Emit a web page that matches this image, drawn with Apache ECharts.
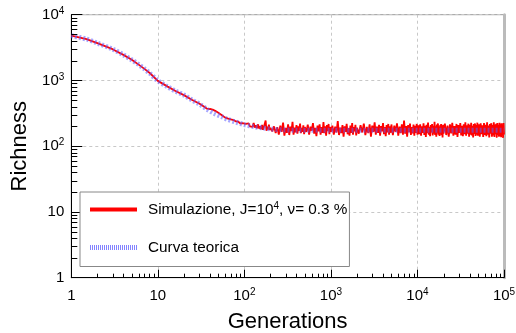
<!DOCTYPE html>
<html>
<head>
<meta charset="utf-8">
<script src="https://cdn.jsdelivr.net/npm/echarts@6/dist/echarts.min.js"></script>
<style>
html,body{margin:0;padding:0;background:#fff;}
#c{width:516px;height:333px;}
</style>
</head>
<body>
<div id="c"></div>
<script>
// ---- data ----
const xTickLabels = ['1', '10', '10{sup|2}', '10{sup|3}', '10{sup|4}', '10{sup|5}'];
const yTickLabels = ['1', '10', '10{sup|2}', '10{sup|3}', '10{sup|4}'];

const theoX = [1, 1.5, 2, 3, 4, 5, 6, 7, 8, 10, 13, 16, 20, 25, 30, 37, 45, 55, 63, 80, 100, 130, 160, 200, 280, 400, 1000, 10000, 100000];
const theoY = [4800, 4250, 3700, 3000, 2450, 2050, 1750, 1500, 1300, 990, 800, 690, 600, 500, 440, 365, 315, 280, 258, 232, 213, 198, 190, 183, 177, 175, 175, 175, 175];

const simX = [1, 1.5, 2, 3, 4, 5, 6, 7, 8, 10, 13, 16, 20, 25, 30, 34, 37, 40, 43, 46, 50, 55, 60, 65, 70, 75, 80, 85, 90, 95, 100,
  104, 108, 112, 116, 120, 124, 128, 132, 136, 140, 144, 148, 152, 156, 160, 164, 168, 172, 176, 180, 184, 188, 192, 196, 200,
  210, 220, 230, 240, 250, 260, 270, 280, 290, 300, 310, 320, 330, 340, 350, 360, 370, 380, 390, 400, 410, 420, 430, 440, 450, 460, 470, 480, 490, 500,
  520, 540, 560, 580, 600, 620, 640, 660, 680, 700, 720, 740, 760, 780, 800, 820, 840, 860, 880, 900, 920, 940, 960, 980, 1000,
  1040, 1080, 1120, 1160, 1200, 1240, 1280, 1320, 1360, 1400, 1440, 1480, 1520, 1560, 1600, 1640, 1680, 1720, 1760, 1800, 1840, 1880, 1920, 1960, 2000,
  2100, 2200, 2300, 2400, 2500, 2600, 2700, 2800, 2900, 3000, 3100, 3200, 3300, 3400, 3500, 3600, 3700, 3800, 3900, 4000, 4100, 4200, 4300, 4400, 4500, 4600, 4700, 4800, 4900, 5000,
  5200, 5400, 5600, 5800, 6000, 6200, 6400, 6600, 6800, 7000, 7200, 7400, 7600, 7800, 8000, 8200, 8400, 8600, 8800, 9000, 9200, 9400, 9600, 9800, 10000,
  10250, 10500, 10750, 11000, 11250, 11500, 11750, 12000, 12250, 12500, 12750, 13000, 13250, 13500, 13750, 14000, 14250, 14500, 14750, 15000,
  15250, 15500, 15750, 16000, 16250, 16500, 16750, 17000, 17250, 17500, 17750, 18000, 18250, 18500, 18750, 19000, 19250, 19500, 19750, 20000,
  20750, 21500, 22250, 23000, 23750, 24500, 25250, 26000, 26750, 27500, 28250, 29000, 29750, 30500, 31250, 32000, 32750, 33500, 34250, 35000,
  35750, 36500, 37250, 38000, 38750, 39500, 40250, 41000, 41750, 42500, 43250, 44000, 44750, 45500, 46250, 47000, 47750, 48500, 49250, 50000,
  51250, 52500, 53750, 55000, 56250, 57500, 58750, 60000, 61250, 62500, 63750, 65000, 66250, 67500, 68750, 70000, 71250, 72500, 73750, 75000,
  76250, 77500, 78750, 80000, 81250, 82500, 83750, 85000, 86250, 87500, 88750, 90000, 91250, 92500, 93750, 95000, 96250, 97500, 98750, 100000];

const simY = [4800, 4260, 3700, 2990, 2450, 2060, 1740, 1500, 1310, 985, 805, 690, 598, 505, 445, 400, 372, 368, 360, 345, 322, 296, 272, 262, 255, 250, 238, 236, 222, 224, 214,
  218, 205, 222, 200, 214, 196, 226, 192, 208, 188, 215, 185, 200, 182, 210, 178, 196, 185, 245, 172, 198, 180, 212, 176, 190,
  168, 200, 158, 195, 150, 205, 165, 228, 145, 190, 160, 215, 148, 198, 170, 235, 150, 192, 162, 210, 155, 200, 172, 220, 158, 190, 165, 208, 152, 196,
  165, 212, 150, 198, 172, 225, 155, 190, 142, 205, 168, 215, 150, 195, 160, 232, 158, 200, 145, 210, 170, 218, 152, 196, 165,
  205, 150, 198, 162, 240, 148, 192, 158, 210, 140, 200, 165, 218, 152, 188, 145, 205, 160, 225, 150, 195, 168, 212, 146, 190,
  155, 208, 162, 220, 148, 196, 158, 215, 140, 205, 165, 230, 150, 198, 160, 212, 145, 202, 168, 225, 152, 195, 142, 210, 162, 218, 150, 200, 160, 214,
  148, 205, 165, 222, 145, 198, 158, 215, 150, 245, 155, 202, 140, 210, 163, 220, 148, 196, 157, 214, 144, 205, 160, 218, 150,
  208, 152, 215, 145, 200, 160, 222, 148, 205, 138, 212, 158, 228, 150, 198, 142, 210, 162, 218, 146,
  204, 155, 235, 148, 200, 140, 214, 160, 222, 150, 196, 143, 208, 158, 218, 147, 203, 136, 212, 155,
  220, 148, 206, 140, 215, 156, 226, 145, 202, 150, 218, 138, 210, 160, 224, 146, 205, 142, 216, 152,
  230, 144, 208, 155, 220, 140, 212, 150, 226, 146, 204, 136, 218, 154, 222, 143, 210, 150, 228, 145,
  215, 140, 222, 152, 208, 138, 225, 148, 212, 142, 230, 150, 206, 136, 218, 155, 224, 140, 210, 146,
  232, 138, 214, 152, 220, 135, 226, 148, 210, 140, 228, 145, 216, 137, 224, 150, 212, 134, 226, 150];

// minor tick positions (2..9 within each decade)
const minorX = [];
for (let d = 1; d < 100000; d *= 10) for (let m = 2; m <= 9; m++) minorX.push(d * m);
const minorY = [];
for (let d = 1; d < 10000; d *= 10) for (let m = 2; m <= 9; m++) minorY.push(d * m);

const FONT = '"Liberation Sans", Arial, Helvetica, sans-serif';
const supRich = { sup: { fontSize: 10, padding: [0, 0, 7, 0], fontFamily: FONT, color: '#000' } };

// legend icons (style only)
const simIcon = 'path://M0,0H47V4H0Z';
let stripes = '';
for (let i = 0; i < 24; i++) stripes += 'M' + (2 * i) + ',0h1v5h-1Z';
const theoIcon = 'path://' + stripes;

function expLabel(arr) {
  return function (v) {
    const e = Math.round(Math.log10(v));
    return arr[e] !== undefined ? arr[e] : '';
  };
}

const chart = echarts.init(document.getElementById('c'), null, { renderer: 'canvas' });

chart.setOption({
  animation: false,
  backgroundColor: '#fff',
  grid: { left: 71.3, right: 12, top: 14.7, bottom: 55.3, show: true, borderColor: '#999', borderWidth: 1,
          containLabel: false, outerBoundsMode: 'none' },
  legend: {
    orient: 'vertical',
    left: 80, top: 192,
    padding: [9, 2, 11, 10],
    itemGap: 22,
    itemWidth: 47,
    itemHeight: 14,
    symbolKeepAspect: true,
    backgroundColor: '#fff',
    borderColor: '#888',
    borderWidth: 1,
    borderRadius: 0,
    textStyle: { fontSize: 15.3, fontFamily: FONT, color: '#000', lineHeight: 16, padding: [0, 0, 0, 6], rich: supRich },
    formatter: function (name) {
      return name === 'sim' ? 'Simulazione, J=10{sup|4}, \u03BD= 0.3 %' : 'Curva teorica';
    },
    data: [
      { name: 'sim', icon: simIcon, itemStyle: { color: '#ff0000' } },
      { name: 'theo', icon: theoIcon, itemStyle: { color: 'rgba(100,100,255,0.8)' } }
    ]
  },
  xAxis: {
    type: 'log', logBase: 10, min: 1, max: 100000,
    axisLine: { lineStyle: { color: '#000', width: 1 } },
    axisTick: { inside: true, length: 8, lineStyle: { color: '#000' } },
    splitLine: { show: true, lineStyle: { color: '#c8c8c8', type: [3, 3], width: 1 } },
    axisLabel: { formatter: expLabel(xTickLabels), margin: 8, fontSize: 15, fontFamily: FONT, color: '#000', lineHeight: 20, rich: supRich },
    name: 'Generations', nameLocation: 'middle', nameGap: 31,
    nameTextStyle: { fontSize: 22, fontFamily: FONT, color: '#000' }
  },
  yAxis: [{
    type: 'log', logBase: 10, min: 1, max: 10000,
    axisLine: { lineStyle: { color: '#000', width: 1 } },
    axisTick: { inside: true, length: 11, lineStyle: { color: '#000' } },
    splitLine: { show: true, lineStyle: { color: '#c8c8c8', type: [3, 3], width: 1 } },
    axisLabel: { formatter: expLabel(yTickLabels), margin: 7, fontSize: 15, fontFamily: FONT, color: '#000', lineHeight: 20, rich: supRich },
    name: 'Richness', nameLocation: 'middle', nameGap: 30,
    nameTextStyle: { fontSize: 22, fontFamily: FONT, color: '#000' }
  }, {
    type: 'value', position: 'right', min: 0, max: 1,
    axisLine: { show: true, lineStyle: { color: '#bbb', width: 3 } },
    axisTick: { show: false }, axisLabel: { show: false }, splitLine: { show: false }
  }],
  series: [
    {
      name: 'sim', type: 'line', symbol: 'none', showSymbol: false,
      data: simX.map((x, i) => [x, simY[i]]),
      lineStyle: { color: '#ff0000', width: 1.8 },
      itemStyle: { color: '#ff0000' },
      z: 2
    },
    {
      name: 'theo', type: 'line', symbol: 'none', showSymbol: false, smooth: 0.3,
      data: theoX.map((x, i) => [x, theoY[i]]),
      lineStyle: { color: 'rgba(95,95,255,0.55)', width: 5, type: [2, 2] },
      itemStyle: { color: 'rgba(100,100,255,0.8)' },
      z: 3
    },
    {
      name: 'minorX', type: 'custom', silent: true, clip: false, z: 4,
      data: minorX.map(v => [v, 1]),
      renderItem: function (params, api) {
        const p = api.coord([api.value(0), 1]);
        const x = Math.round(p[0]) + 0.5;
        return { type: 'line', shape: { x1: x, y1: p[1], x2: x, y2: p[1] - 4 }, style: { stroke: '#000', lineWidth: 1 } };
      }
    },
    {
      name: 'minorY', type: 'custom', silent: true, clip: false, z: 4,
      data: minorY.map(v => [1, v]),
      renderItem: function (params, api) {
        const p = api.coord([1, api.value(1)]);
        const y = Math.round(p[1]) + 0.5;
        return { type: 'line', shape: { x1: p[0], y1: y, x2: p[0] + 6, y2: y }, style: { stroke: '#000', lineWidth: 1 } };
      }
    }
  ]
});
</script>
</body>
</html>
